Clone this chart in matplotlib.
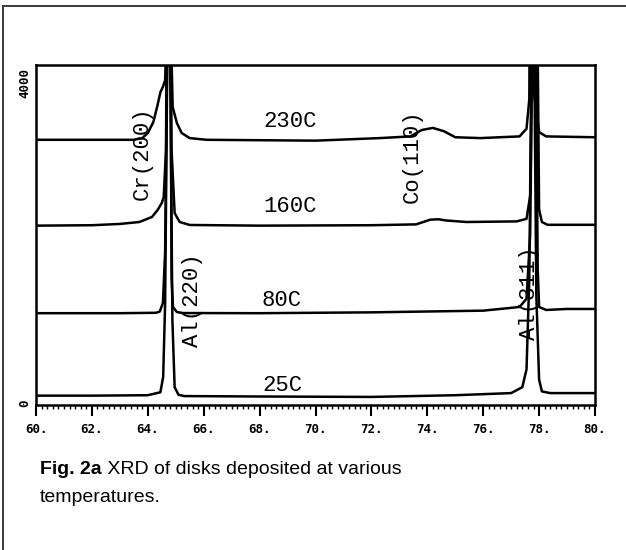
import matplotlib
matplotlib.use("Agg")
import matplotlib.pyplot as plt
from matplotlib.lines import Line2D
from matplotlib.ticker import MultipleLocator
import matplotlib.transforms as mtransforms

# ---- data (2-theta in degrees, intensity in counts) ----
tt_25 = [60.0, 62.0, 64.0, 64.45, 64.55, 64.62, 64.75, 64.88, 64.96, 65.1, 65.3, 68.0, 72.0, 75.0,
         77.0, 77.4, 77.55, 77.65, 77.78, 77.9, 78.0, 78.1, 78.4, 80.0]
I_25 = [110, 110, 115, 150, 330, 1200, 6000, 1000, 210, 120, 105, 100, 95, 115,
        140, 210, 420, 1500, 6000, 1300, 300, 160, 140, 140]

tt_80 = [60.0, 63.0, 64.3, 64.43, 64.54, 64.62, 64.78, 64.85, 64.9, 65.04, 65.25, 68.0, 72.0, 76.0,
         77.3, 77.55, 77.68, 77.82, 77.95, 78.0, 78.25, 79.0, 80.0]
I_80 = [1080, 1080, 1085, 1100, 1200, 1800, 7000, 1500, 1153, 1094, 1082, 1080, 1090, 1110,
        1153, 1250, 2000, 7000, 1600, 1153, 1118, 1130, 1130]

tt_160 = [60.0, 62.0, 63.0, 63.7, 64.15, 64.35, 64.5, 64.57, 64.65, 64.75, 64.85, 64.96, 65.14, 65.5,
          68.0, 72.0, 73.6, 74.1, 74.4, 74.7, 75.4, 77.2, 77.55, 77.7, 77.85, 78.0, 78.1, 78.3, 80.0]
I_160 = [2110, 2115, 2130, 2153, 2212, 2294, 2376, 2447, 3000, 8000, 3000, 2259, 2153, 2118,
         2110, 2115, 2125, 2180, 2185, 2170, 2153, 2160, 2190, 2500, 8000, 2300, 2153, 2120, 2120]

tt_230 = [60.0, 63.5, 63.8, 64.0, 64.2, 64.35, 64.45, 64.55, 64.62, 64.68, 64.75, 64.82, 64.89, 65.04,
          65.21, 65.5, 66.1, 70.0, 72.3, 73.4, 73.8, 74.2, 74.6, 75.0, 75.9, 77.3, 77.55, 77.65,
          77.72, 77.8, 78.0, 78.25, 80.0]
I_230 = [3120, 3120, 3140, 3200, 3330, 3530, 3680, 3750, 3820, 4500, 9000, 4500, 3506, 3318,
         3200, 3140, 3120, 3110, 3140, 3160, 3235, 3260, 3220, 3150, 3140, 3160, 3250, 3600,
         9000, 3700, 3210, 3160, 3150]

temp_labels = ["25C", "80C", "160C", "230C"]
temp_label_x = [68.8, 68.8, 69.1, 69.1]
temp_label_y = [235, 1235, 2330, 3330]

peak_labels = ["Cr(200)", "Co(110)", "Al(220)", "Al(311)"]
peak_label_x = [63.79, 73.46, 65.6, 77.64]
peak_label_y = [2965, 2930, 1235, 1318]

xticks = [60, 62, 64, 66, 68, 70, 72, 74, 76, 78, 80]
xtick_labels = ["60.", "62.", "64.", "66.", "68.", "70.", "72.", "74.", "76.", "78.", "80."]

# ---- figure ----
W, H = 626, 550
fig = plt.figure(figsize=(W / 100, H / 100), dpi=100)
ax = fig.add_axes([36 / W, 1 - 405 / H, (595 - 36) / W, (405 - 65) / H])

lw = 1.8
for tt, I in [(tt_25, I_25), (tt_80, I_80), (tt_160, I_160), (tt_230, I_230)]:
    ax.plot(tt, I, color="black", lw=lw, solid_joinstyle="round")

ax.set_xlim(60, 80)
ax.set_ylim(0, 4000)
for s in ax.spines.values():
    s.set_linewidth(1.8)

ax.set_xticks(xticks)
ax.set_xticklabels(xtick_labels, family="DejaVu Sans Mono", fontweight="bold", fontsize=9)
ax.xaxis.set_minor_locator(MultipleLocator(0.2))
ax.tick_params(axis="x", which="major", direction="out", length=8, width=1.5, pad=5)
ax.tick_params(axis="x", which="minor", direction="out", length=3, width=1.0)
ax.set_yticks([])

# rotated y labels
trans = mtransforms.blended_transform_factory(ax.transAxes, ax.transData)
ax.text(-0.008, 3970, "4000", transform=trans, rotation=90, ha="right", va="top",
        family="DejaVu Sans Mono", fontweight="bold", fontsize=9)
ax.text(-0.008, 20, "0", transform=trans, rotation=90, ha="right", va="center",
        family="DejaVu Sans Mono", fontweight="bold", fontsize=9)

mono = "Liberation Mono"
for lab, x, y in zip(temp_labels, temp_label_x, temp_label_y):
    ax.text(x, y, lab, family=mono, fontsize=16, ha="center", va="center")
for lab, x, y in zip(peak_labels, peak_label_x, peak_label_y):
    ax.text(x, y, lab, family=mono, fontsize=16, ha="center", va="center", rotation=90)

# caption
cap_font = "Liberation Sans"
t1 = fig.text(40 / W, 1 - 470 / H, "Fig. 2a", family=cap_font, fontweight="bold",
              fontsize=14, ha="left", va="center")
fig.canvas.draw()
ax.annotate(" XRD of disks deposited at various", xy=(1, 0), xycoords=t1,
            va="bottom", ha="left", family=cap_font, fontsize=14, annotation_clip=False)
fig.text(40 / W, 1 - 497 / H, "temperatures.", family=cap_font, fontsize=14,
         ha="left", va="center")

# outer frame (partially cropped)
fig.add_artist(Line2D([3 / W, 3 / W], [0, 1 - 6 / H], transform=fig.transFigure,
                      color="#3a3a3a", lw=1.4))
fig.add_artist(Line2D([3 / W, 1], [1 - 6 / H, 1 - 6 / H], transform=fig.transFigure,
                      color="#3a3a3a", lw=1.4))

fig.savefig("out.png", dpi=100)
